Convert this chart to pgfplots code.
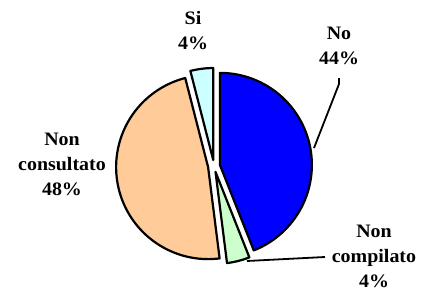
\documentclass[border=0pt]{standalone}
\usepackage{pgfplots}
\pgfplotsset{compat=1.18}
\usepackage{fontspec}
\setmainfont{Liberation Serif}[FakeStretch=1.05]
\definecolor{cNo}{HTML}{0000FF}
\definecolor{cComp}{HTML}{CCFFCC}
\definecolor{cCons}{HTML}{FFCC99}
\definecolor{cSi}{HTML}{CCFFFF}
\begin{document}
\begin{tikzpicture}
\begin{axis}[
  width=424pt, height=293pt, scale only axis,
  xmin=0, xmax=424, ymin=0, ymax=293,
  hide axis, clip=false,
]
\path (axis cs:0,0) rectangle (axis cs:424,293);
% values: No 44, Non compilato 4, Non consultato 48, Si 4 (3.6 deg per percent, clockwise from 90)
% No: 90 -> -68.4
\addplot[draw=black, line width=2.2pt, line join=round, fill=cNo, domain=-68.4:90, samples=80]
  ({219.89+92*cos(x)}, {128.12+92*sin(x)}) -- (axis cs:219.89,128.12) -- cycle;
% Non compilato: -68.4 -> -82.8
\addplot[draw=black, line width=2.2pt, line join=round, fill=cComp, domain=-82.8:-68.4, samples=20]
  ({215.49+92*cos(x)}, {121.19+92*sin(x)}) -- (axis cs:215.49,121.19) -- cycle;
% Non consultato: -82.8 -> -255.6
\addplot[draw=black, line width=2.2pt, line join=round, fill=cCons, domain=104.4:277.2, samples=80]
  ({208.11+92*cos(x)}, {125.88+92*sin(x)}) -- (axis cs:208.11,125.88) -- cycle;
% Si: -255.6 -> -270
\addplot[draw=black, line width=2.2pt, line join=round, fill=cSi, domain=90:104.4, samples=20]
  ({213.25+92*cos(x)}, {132.95+92*sin(x)}) -- (axis cs:213.25,132.95) -- cycle;
% leader lines
\draw[line width=1.8pt] (axis cs:339,215) -- (axis cs:339,209) -- (axis cs:314,145);
\draw[line width=1.8pt] (axis cs:247,32) -- (axis cs:325,36);
% labels
\begin{scope}[every node/.style={align=center, font=\fontsize{19}{25}\selectfont\bfseries}]
\node at (axis cs:193,262) {Si\\4\%};
\node at (axis cs:339,247) {No\\44\%};
\node at (axis cs:62,129) {Non\\consultato\\48\%};
\node at (axis cs:374,37) {Non\\compilato\\4\%};
\end{scope}
\end{axis}
\end{tikzpicture}
\end{document}
